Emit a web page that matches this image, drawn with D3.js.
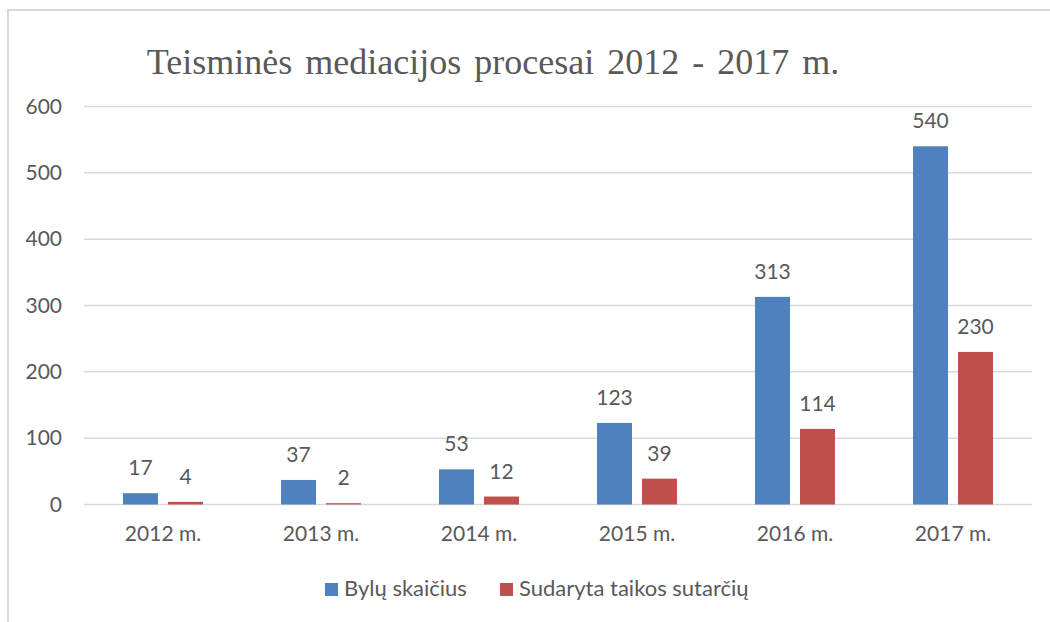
<!DOCTYPE html>
<html>
<head>
<meta charset="utf-8">
<script src="https://cdn.jsdelivr.net/npm/d3@7"></script>
<style>
    body { margin: 0; background: #fff; }
    text { fill: #595959; }
</style>
</head>
<body>
<div id="chart"></div>
<script>
// chart data
const years = ['2012 m.', '2013 m.', '2014 m.', '2015 m.', '2016 m.', '2017 m.'];
const bylos = [17, 37, 53, 123, 313, 540];
const sutartys = [4, 2, 12, 39, 114, 230];
const seriesNames = ['Bylų skaičius', 'Sudaryta taikos sutarčių'];
const yTicks = [0, 100, 200, 300, 400, 500, 600];

const colors = ['#4f81bd', '#c0504d'];
const font = 'Lato, Carlito, sans-serif';

const width = 1050, height = 622;
const margin = { top: 106.5, right: 18, bottom: 117.5, left: 84 };

const svg = d3.select('#chart').append('svg')
    .attr('width', width)
    .attr('height', height);

// outer frame (right / bottom edges run off the picture)
svg.append('rect')
    .attr('x', 8).attr('y', 10)
    .attr('width', 1200).attr('height', 800)
    .attr('fill', 'none')
    .attr('stroke', '#d9d9d9')
    .attr('stroke-width', 2);

const plot = svg.append('g')
    .attr('transform', `translate(${margin.left},${margin.top})`);
const w = width - margin.left - margin.right;
const h = height - margin.top - margin.bottom;

// scales
const x = d3.scaleBand().domain(years).range([0, w]);
// two bars of ~35px with a 10px gap, centred in each category
const xs = d3.scaleBand().domain([0, 1])
    .range([x.bandwidth() / 2 - 40, x.bandwidth() / 2 + 40])
    .paddingInner(10 / 45);
const y = d3.scaleLinear().domain([0, 600]).range([h, 0]);

// gridlines
plot.append('g')
    .selectAll('line')
    .data(yTicks)
    .enter()
    .append('line')
    .attr('x1', 0).attr('x2', w)
    .attr('y1', d => y(d)).attr('y2', d => y(d))
    .attr('stroke', '#d9d9d9')
    .attr('stroke-width', 1.5);

// y axis labels
const yAxis = plot.append('g')
    .call(d3.axisLeft(y).tickValues(yTicks).tickSize(0).tickPadding(22));
yAxis.select('.domain').remove();
yAxis.selectAll('text')
    .style('font-family', font)
    .style('font-size', '21px')
    .attr('fill', '#595959');

// x axis labels
const xAxis = plot.append('g')
    .attr('transform', `translate(0,${h})`)
    .call(d3.axisBottom(x).tickSize(0).tickPadding(22));
xAxis.select('.domain').remove();
xAxis.selectAll('text')
    .style('font-family', font)
    .style('font-size', '21px')
    .attr('fill', '#595959');

// bars + labels
const series = [bylos, sutartys];
series.forEach((vals, si) => {
    const g = plot.append('g');
    g.selectAll('rect')
        .data(vals)
        .enter()
        .append('rect')
        .attr('x', (d, i) => x(years[i]) + xs(si))
        .attr('y', d => y(d))
        .attr('width', xs.bandwidth())
        .attr('height', d => h - y(d))
        .attr('fill', colors[si]);

    g.selectAll('text')
        .data(vals)
        .enter()
        .append('text')
        .attr('x', (d, i) => x(years[i]) + xs(si) + xs.bandwidth() / 2)
        .attr('y', d => y(d) - 18)
        .attr('text-anchor', 'middle')
        .style('font-family', font)
        .style('font-size', '21px')
        .text(d => d);
});

// title
svg.append('text')
    .attr('x', 493)
    .attr('y', 74)
    .attr('text-anchor', 'middle')
    .style('font-family', '"Liberation Serif", "Times New Roman", serif')
    .style('font-size', '36px')
    .style('word-spacing', '4px')
    .text('Teisminės mediacijos procesai 2012 - 2017 m.');

// legend
const legendX = [325, 500];
const legend = svg.append('g');
seriesNames.forEach((name, i) => {
    legend.append('rect')
        .attr('x', legendX[i]).attr('y', 583)
        .attr('width', 13).attr('height', 13)
        .attr('fill', colors[i]);
    legend.append('text')
        .attr('x', legendX[i] + 19)
        .attr('y', 596)
        .style('font-family', font)
        .style('font-size', '22px')
        .text(name);
});
</script>
</body>
</html>
